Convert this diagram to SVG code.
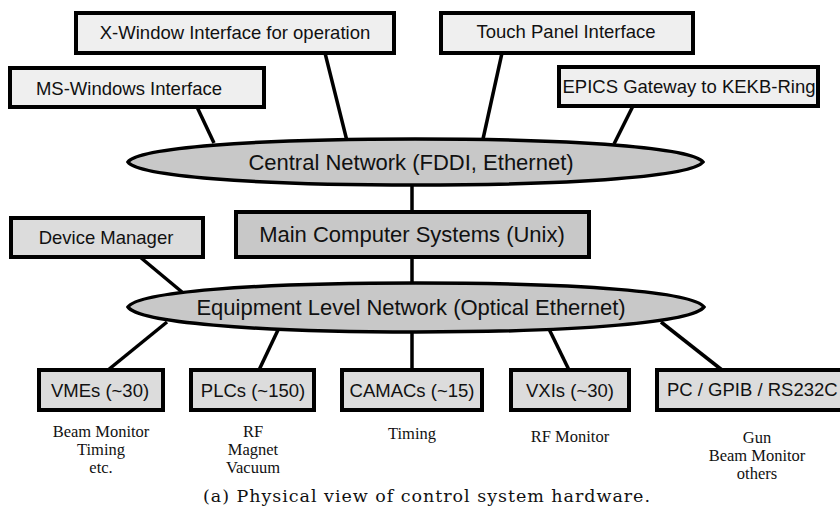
<svg xmlns="http://www.w3.org/2000/svg" width="840" height="510" viewBox="0 0 840 510">
<style>
.box{stroke:#000;stroke-width:4}
.top{fill:#efefef}
.mid{fill:#dcdcdc}
.main{fill:#c8c8c8}
.net{fill:#c8c8c8;stroke:#000;stroke-width:3.5}
.t{font-family:"Liberation Sans",Arial,sans-serif;fill:#111;text-anchor:middle}
.s{font-size:18.5px}
.l{font-size:22px}
.d{font-family:"Liberation Serif","Times New Roman",serif;font-size:16.5px;fill:#111;text-anchor:middle}
.c{font-family:"DejaVu Serif",serif;font-size:17.5px;fill:#111}
#connectors line{stroke:#000;stroke-width:3.5}
</style>
<rect width="840" height="510" fill="#fff"/>
<g id="connectors">
<line x1="325" y1="53" x2="347" y2="141"/>
<line x1="197" y1="107" x2="214" y2="143"/>
<line x1="502" y1="53" x2="483" y2="139"/>
<line x1="633" y1="106" x2="614" y2="144"/>
<line x1="412" y1="184" x2="412" y2="212"/>
<line x1="412" y1="257" x2="412" y2="284"/>
<line x1="140" y1="257" x2="182" y2="292"/>
<line x1="167" y1="322" x2="108" y2="370"/>
<line x1="278" y1="330" x2="259" y2="370"/>
<line x1="412" y1="331" x2="412" y2="370"/>
<line x1="549" y1="329" x2="569" y2="370"/>
<line x1="661" y1="322" x2="722" y2="370"/>
</g>
<g id="central-network">
<path class="net" d="M128,162 C138,148 250,139 415,139 C580,139 692,148 703,162 C692,176 580,185 415,185 C250,185 138,176 128,162 Z"/>
<text class="t l" x="411" y="170">Central Network (FDDI, Ethernet)</text>
</g>
<g id="equipment-network">
<path class="net" d="M128,307 C138,292 250,283 416,283 C582,283 693,292 704,307 C693,322 582,332 416,332 C250,332 138,322 128,307 Z"/>
<text class="t l" x="411" y="315">Equipment Level Network (Optical Ethernet)</text>
</g>
<g id="x-window">
<rect class="box top" x="76" y="13" width="318" height="40"/>
<text class="t s" x="235" y="39">X-Window Interface for operation</text>
</g>
<g id="ms-windows">
<rect class="box top" x="10" y="68" width="254" height="39"/>
<text class="t s" x="129" y="95">MS-Windows Interface</text>
</g>
<g id="touch-panel">
<rect class="box top" x="441" y="13" width="252" height="40"/>
<text class="t s" x="566" y="38">Touch Panel Interface</text>
</g>
<g id="epics">
<rect class="box top" x="559" y="67" width="259" height="39"/>
<text class="t s" x="689" y="93">EPICS Gateway to KEKB-Ring</text>
</g>
<g id="main-computer">
<rect class="box main" x="236" y="212" width="353" height="45"/>
<text class="t l" x="412" y="242">Main Computer Systems (Unix)</text>
</g>
<g id="device-manager">
<rect class="box mid" x="11" y="218" width="192" height="39"/>
<text class="t s" x="106" y="244">Device Manager</text>
</g>
<g id="vmes">
<rect class="box mid" x="39" y="370" width="124" height="40"/>
<text class="t s" x="100" y="397">VMEs (~30)</text>
<text class="d" x="101" y="437">Beam Monitor</text>
<text class="d" x="101" y="455">Timing</text>
<text class="d" x="101" y="473">etc.</text>
</g>
<g id="plcs">
<rect class="box mid" x="191" y="370" width="123" height="40"/>
<text class="t s" x="253" y="397">PLCs (~150)</text>
<text class="d" x="253" y="437">RF</text>
<text class="d" x="253" y="455">Magnet</text>
<text class="d" x="253" y="473">Vacuum</text>
</g>
<g id="camacs">
<rect class="box mid" x="342" y="370" width="140" height="40"/>
<text class="t s" x="412" y="397">CAMACs (~15)</text>
<text class="d" x="412" y="439">Timing</text>
</g>
<g id="vxis">
<rect class="box mid" x="511" y="370" width="118" height="40"/>
<text class="t s" x="570" y="397">VXIs (~30)</text>
<text class="d" x="570" y="442">RF Monitor</text>
</g>
<g id="pc-gpib">
<rect class="box mid" x="657" y="370" width="190" height="40"/>
<text class="t s" x="667" y="396" style="text-anchor:start">PC / GPIB / RS232C</text>
<text class="d" x="757" y="443">Gun</text>
<text class="d" x="757" y="461">Beam Monitor</text>
<text class="d" x="757" y="479">others</text>
</g>
<text class="c" x="203" y="502" textLength="447" lengthAdjust="spacing">(a)  Physical view of control system hardware.</text>
</svg>
